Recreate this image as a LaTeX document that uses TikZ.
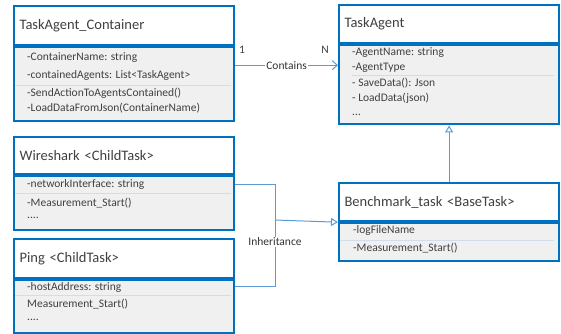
\documentclass[tikz,border=0pt]{standalone}
\usepackage{fontspec}
\setmainfont{Carlito}
\usetikzlibrary{arrows.meta,positioning}

\definecolor{umlblue}{RGB}{0,112,192}
\definecolor{linkblue}{RGB}{91,155,213}
\definecolor{bodygray}{RGB}{240,240,240}
\definecolor{sepblue}{RGB}{208,222,236}
\definecolor{txtgray}{RGB}{64,64,64}

\tikzset{
  classhead/.style={draw=umlblue, line width=2.2pt, fill=white, anchor=north west,
    minimum width=220pt, text width=209pt, inner xsep=5.5pt, align=left,
    font=\fontsize{14.5}{16}\selectfont, text=txtgray},
  classbody/.style={draw=umlblue, line width=2.2pt, fill=bodygray, anchor=north west,
    minimum width=220pt, inner sep=0pt},
  member/.style={anchor=west, inner sep=0pt, text height=8.5pt, text depth=2.5pt,
    font=\fontsize{11.5}{13}\selectfont, text=txtgray},
  sepline/.style={draw=sepblue, line width=0.8pt},
  link/.style={draw=linkblue, line width=1pt},
  linklabel/.style={inner sep=1pt, fill=white, font=\fontsize{11.5}{13}\selectfont, text=black!80}
}

\begin{document}
\begin{tikzpicture}[x=1pt, y=-1pt]
  \useasboundingbox (0,0) rectangle (561,333);

  % TaskAgent_Container
  \node[classhead, minimum height=39pt] (cont) at (13,5) {TaskAgent\_Container};
  \node[classbody, minimum height=74pt] (contbody) at (cont.south west) {};
  \draw[sepline] (15,85) -- (231,85);
  \node[member] (cont-name) at (27,57) {-ContainerName: string};
  \node[member] (cont-agents) at (27,75) {-containedAgents: List<TaskAgent>};
  \node[member] (cont-send) at (27,93) {-SendActionToAgentsContained()};
  \node[member] (cont-load) at (27,108) {-LoadDataFromJson(ContainerName)};

  % TaskAgent
  \node[classhead, minimum height=38pt] (agent) at (338,4) {TaskAgent};
  \node[classbody, minimum height=79pt] (agentbody) at (agent.south west) {};
  \draw[sepline] (352,75) -- (554,75);
  \node[member] (agent-name) at (352,52) {-AgentName: string};
  \node[member] (agent-type) at (352,67) {-AgentType};
  \node[member] (agent-save) at (352,83) {- SaveData(): Json};
  \node[member] (agent-load) at (352,98) {- LoadData(json)};
  \node[member] (agent-more) at (352,112) {...};

  % Wireshark <ChildTask>
  \node[classhead, minimum height=37pt] (wire) at (13,136) {Wireshark <ChildTask>};
  \node[classbody, minimum height=54pt] (wirebody) at (wire.south west) {};
  \draw[sepline] (15,193) -- (231,193);
  \node[member] (wire-iface) at (27,184) {-networkInterface: string};
  \node[member] (wire-start) at (27,203) {-Measurement\_Start()};
  \node[member] (wire-more) at (27,215) {....};

  % Ping <ChildTask>
  \node[classhead, minimum height=39pt] (ping) at (13,238) {Ping <ChildTask>};
  \node[classbody, minimum height=53pt] (pingbody) at (ping.south west) {};
  \draw[sepline] (15,295) -- (231,295);
  \node[member] (ping-host) at (27,287) {-hostAddress: string};
  \node[member] (ping-start) at (27,304) {Measurement\_Start()};
  \node[member] (ping-more) at (27,317) {....};

  % Benchmark_task <BaseTask>
  \node[classhead, minimum height=38pt] (bench) at (338,182) {Benchmark\_task <BaseTask>};
  \node[classbody, minimum height=38pt] (benchbody) at (bench.south west) {};
  \draw[sepline] (340,240) -- (554,240);
  \node[member] (bench-log) at (353,230) {-logFileName};
  \node[member] (bench-start) at (353,248) {-Measurement\_Start()};

  % Contains
  \draw[link, -{Straight Barb[length=5pt, width=9pt]}]
    ([yshift=-19pt]contbody.north east) -- ([yshift=-19pt]contbody.north east -| agentbody.west)
    node[linklabel, midway] (contains) {Contains};
  \node[member, anchor=center] (one) at (242,50) {1};
  \node[member, anchor=center] (many) at (325,50) {N};

  % Inheritance
  \coordinate (join) at (275,220);
  \draw[link] ([yshift=-9pt]wirebody.north east) -| (join);
  \draw[link] ([yshift=-7pt]pingbody.north east) -| (join);
  \draw[link, -{Triangle[open, length=7pt, width=8pt]}] (join) -- (bench.south west);
  \draw[link, -{Triangle[open, length=7pt, width=8pt]}] (bench.north) -- (agentbody.south);
  \node[linklabel] (inherit) at (275,242) {Inheritance};
\end{tikzpicture}
\end{document}
